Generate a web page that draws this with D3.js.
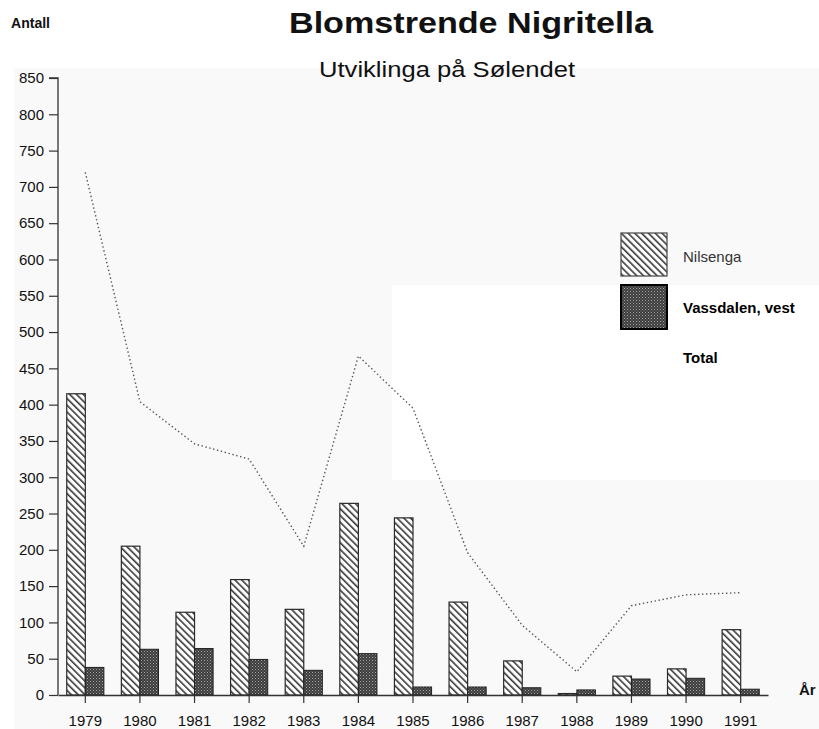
<!DOCTYPE html>
<html>
<head>
<meta charset="utf-8">
<script src="https://cdn.jsdelivr.net/npm/d3@7"></script>
<style>
  html, body { margin: 0; padding: 0; background: #ffffff; }
  svg { display: block; font-family: "Liberation Sans", Arial, Helvetica, sans-serif; }
</style>
</head>
<body>
<svg id="chart" width="819" height="729"></svg>
<script>
// ---- data ----
const years = ["1979","1980","1981","1982","1983","1984","1985","1986","1987","1988","1989","1990","1991"];
const nilsenga = [415, 205, 114, 159, 118, 264, 244, 128, 47, 2, 26, 36, 90];
const vassdalen = [38, 63, 64, 49, 34, 57, 11, 11, 10, 7, 22, 23, 8];
const total = [720, 404, 346, 325, 205, 467, 395, 196, 96, 32, 123, 138, 141];
const yTicks = [0, 50, 100, 150, 200, 250, 300, 350, 400, 450, 500, 550, 600, 650, 700, 750, 800, 850];
const seriesNames = ["Nilsenga", "Vassdalen, vest", "Total"];

const svg = d3.select("#chart");
const W = 819, H = 729;

// faint scan tint
svg.append("rect").attr("x", 0).attr("y", 0).attr("width", W).attr("height", H).attr("fill", "#ffffff");
svg.append("rect").attr("x", 14).attr("y", 68).attr("width", W - 14).attr("height", H - 68).attr("fill", "#f9f9f9");
svg.append("rect").attr("x", 392).attr("y", 285).attr("width", W - 392).attr("height", 195).attr("fill", "#ffffff");

const defs = svg.append("defs");
// diagonal hatch for Nilsenga
const hatch = defs.append("pattern")
  .attr("id", "hatch").attr("patternUnits", "userSpaceOnUse")
  .attr("width", 4.8).attr("height", 4.8)
  .attr("patternTransform", "rotate(-45)");
hatch.append("rect").attr("width", 4.8).attr("height", 4.8).attr("fill", "#ffffff");
hatch.append("line").attr("x1", 0.8).attr("y1", 0).attr("x2", 0.8).attr("y2", 4.8)
  .attr("stroke", "#2a2a2a").attr("stroke-width", 1.5);

// stipple for Vassdalen
const stip = defs.append("pattern")
  .attr("id", "stipple").attr("patternUnits", "userSpaceOnUse")
  .attr("width", 3).attr("height", 3);
stip.append("rect").attr("width", 3).attr("height", 3).attr("fill", "#3c3c3c");
stip.append("rect").attr("x", 0).attr("y", 0).attr("width", 1).attr("height", 1).attr("fill", "#a8a8a8");
stip.append("rect").attr("x", 1.5).attr("y", 1.5).attr("width", 1).attr("height", 1).attr("fill", "#8a8a8a");

// scales
const x = d3.scaleBand().domain(years).range([58, 768]).paddingInner(0.32).paddingOuter(0.16);
const y = d3.scaleLinear().domain([0, 850]).range([695, 78]);
const half = x.bandwidth() / 2;

// bars
const g = svg.append("g");
g.selectAll("rect.nil").data(years).join("rect")
  .attr("class", "nil")
  .attr("x", d => x(d))
  .attr("y", (d, i) => y(nilsenga[i]))
  .attr("width", half)
  .attr("height", (d, i) => y(0) - y(nilsenga[i]))
  .attr("fill", "url(#hatch)")
  .attr("stroke", "#2a2a2a").attr("stroke-width", 1.2);

g.selectAll("rect.vas").data(years).join("rect")
  .attr("class", "vas")
  .attr("x", d => x(d) + half)
  .attr("y", (d, i) => y(vassdalen[i]))
  .attr("width", half)
  .attr("height", (d, i) => y(0) - y(vassdalen[i]))
  .attr("fill", "url(#stipple)")
  .attr("stroke", "#222").attr("stroke-width", 1);

// total line
const line = d3.line()
  .x((d, i) => x(years[i]) + half)
  .y(d => y(d));
svg.append("path").datum(total)
  .attr("d", line)
  .attr("fill", "none")
  .attr("stroke", "#555")
  .attr("stroke-width", 1.4)
  .attr("stroke-dasharray", "1.4,2.6");

// y axis
const yAxis = d3.axisLeft(y).tickValues(yTicks).tickSize(9).tickPadding(5);
const ya = svg.append("g").attr("transform", "translate(58,0)").call(yAxis);
ya.select(".domain").attr("stroke", "#333").attr("stroke-width", 1.3).attr("d", `M-9,${y(850)}H0V${y(0)}`);
ya.selectAll(".tick line").attr("stroke", "#333").attr("stroke-width", 1.2);
ya.selectAll(".tick text").attr("font-size", 15).attr("fill", "#111")
  .attr("font-family", "'Liberation Sans', Arial, sans-serif");

// x axis
const xAxis = d3.axisBottom(x).tickSize(8).tickPadding(12).tickSizeOuter(0);
const xa = svg.append("g").attr("transform", `translate(0,${y(0)})`).call(xAxis);
xa.select(".domain").attr("stroke", "#333").attr("stroke-width", 1.3);
xa.selectAll(".tick line").attr("stroke", "#333").attr("stroke-width", 1.2);
xa.selectAll(".tick text").attr("font-size", 15).attr("fill", "#111")
  .attr("font-family", "'Liberation Sans', Arial, sans-serif");

// titles
svg.append("text").attr("x", 471).attr("y", 33).attr("text-anchor", "middle")
  .attr("font-size", 29).attr("font-weight", "bold").attr("fill", "#111")
  .attr("textLength", 364).attr("lengthAdjust", "spacingAndGlyphs")
  .text("Blomstrende Nigritella");
svg.append("text").attr("x", 447).attr("y", 77).attr("text-anchor", "middle")
  .attr("font-size", 22).attr("fill", "#111")
  .attr("textLength", 256).attr("lengthAdjust", "spacingAndGlyphs")
  .text("Utviklinga på Sølendet");
svg.append("text").attr("x", 11).attr("y", 28)
  .attr("font-size", 14).attr("font-weight", "bold").attr("fill", "#111")
  .attr("textLength", 39).attr("lengthAdjust", "spacingAndGlyphs")
  .text("Antall");
svg.append("text").attr("x", 799).attr("y", 695)
  .attr("font-size", 15).attr("font-weight", "bold").attr("fill", "#111")
  .text("År");

// legend
const lg = svg.append("g");
lg.append("rect").attr("x", 621).attr("y", 233).attr("width", 46).attr("height", 43)
  .attr("fill", "url(#hatch)").attr("stroke", "#444").attr("stroke-width", 1.2);
lg.append("rect").attr("x", 621).attr("y", 285).attr("width", 46).attr("height", 44)
  .attr("fill", "url(#stipple)").attr("stroke", "#000").attr("stroke-width", 2);
lg.append("text").attr("x", 683).attr("y", 262).attr("font-size", 15).attr("fill", "#333")
  .text(seriesNames[0]);
lg.append("text").attr("x", 683).attr("y", 313).attr("font-size", 15).attr("font-weight", "bold").attr("fill", "#000")
  .text(seriesNames[1]);
lg.append("text").attr("x", 683).attr("y", 363).attr("font-size", 15).attr("font-weight", "bold").attr("fill", "#000")
  .text(seriesNames[2]);
</script>
</body>
</html>
